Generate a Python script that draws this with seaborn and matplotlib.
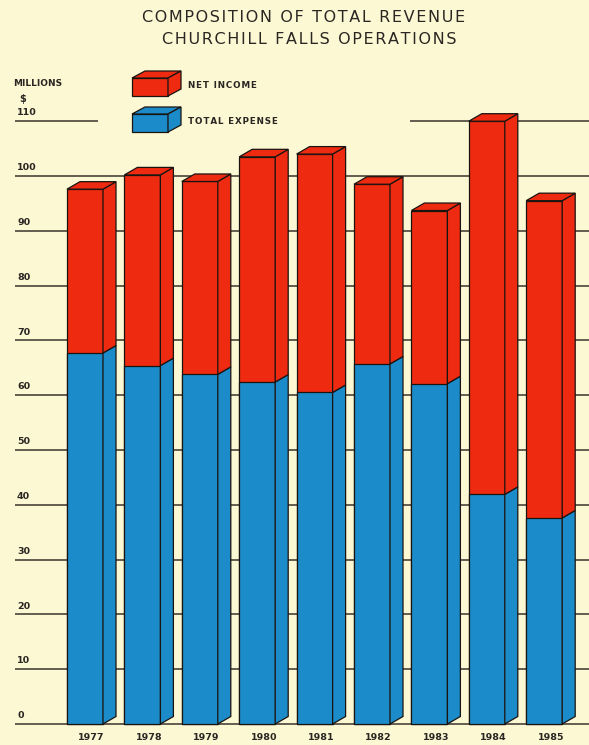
import matplotlib
matplotlib.use("Agg")
import matplotlib.pyplot as plt
import matplotlib.patches as mpatches
import numpy as np
import pandas as pd
import seaborn as sns

# ---- data (millions of dollars) ----
years = ["1977", "1978", "1979", "1980", "1981", "1982", "1983", "1984", "1985"]
total_expense = [67.7, 65.4, 63.8, 62.4, 60.5, 65.7, 62.1, 41.9, 37.6]
net_income = [29.9, 34.8, 35.2, 41.1, 43.5, 32.8, 31.6, 68.1, 57.9]
y_ticks = [0, 10, 20, 30, 40, 50, 60, 70, 80, 90, 100, 110]

total_revenue = [e + n for e, n in zip(total_expense, net_income)]
df = pd.DataFrame({"year": years, "expense": total_expense, "total": total_revenue})

# ---- style ----
BG = "#FDF8D4"
RED = "#EE2A10"
BLUE = "#1C8BC9"
EDGE = "#1a1410"
GRID = "#3a342c"
TXT = "#2a2622"

sns.set_theme(style="white")
plt.rcParams["font.family"] = ["DejaVu Sans"]

W, H = 589, 745
fig = plt.figure(figsize=(W / 100, H / 100), dpi=100, facecolor=BG)
ax = fig.add_axes([0, 0, 1, 1])
ax.set_facecolor(BG)

# pixel geometry -> data mapping
base_px, px_per_unit = 724.0, 5.48
c0_px, step_px = 85.0, 57.4
bar_w = 36.0 / step_px
dx = 13.0 / step_px
dy = 7.5 / px_per_unit

sns.barplot(data=df, x="year", y="total", color=RED, saturation=1, width=bar_w,
            edgecolor=EDGE, linewidth=0.9, ax=ax, zorder=3)
sns.barplot(data=df, x="year", y="expense", color=BLUE, saturation=1, width=bar_w,
            edgecolor=EDGE, linewidth=0.9, ax=ax, zorder=4)

ax.set_xlim(-c0_px / step_px, (W - c0_px) / step_px)
ax.set_ylim((base_px - H) / px_per_unit, base_px / px_per_unit)
ax.set_axis_off()

def xd(px):
    return (px - c0_px) / step_px

# gridlines
for t in y_ticks:
    if t == 110:
        ax.hlines(t, xd(15), xd(98), color=GRID, lw=1.1, zorder=1)
        ax.hlines(t, xd(410), xd(W), color=GRID, lw=1.1, zorder=1)
    else:
        ax.hlines(t, xd(15), xd(W), color=GRID, lw=1.1, zorder=1)
    ax.text(xd(17), t + 0.7, str(t), ha="left", va="bottom", fontsize=6.8,
            color=TXT, fontweight="bold")

# 3-D side and top faces built from the bar patches
for i, (e, tot) in enumerate(zip(total_expense, total_revenue)):
    x1 = i + bar_w / 2
    x0 = i - bar_w / 2
    side_b = [(x1, 0), (x1, e), (x1 + dx, e + dy), (x1 + dx, dy)]
    side_r = [(x1, e), (x1, tot), (x1 + dx, tot + dy), (x1 + dx, e + dy)]
    top_r = [(x0, tot), (x1, tot), (x1 + dx, tot + dy), (x0 + dx, tot + dy)]
    ax.add_patch(mpatches.Polygon(side_b, closed=True, fc=BLUE, ec=EDGE, lw=0.9, zorder=5))
    ax.add_patch(mpatches.Polygon(side_r, closed=True, fc=RED, ec=EDGE, lw=0.9, zorder=5))
    ax.add_patch(mpatches.Polygon(top_r, closed=True, fc=RED, ec=EDGE, lw=0.9, zorder=5))
    ax.text(i + dx / 2, (base_px - 737) / px_per_unit, years[i], ha="center", va="center",
            fontsize=6.8, color=TXT, fontweight="bold")

# ---- figure-level text & legend (pixel positions) ----
def fpt(x, y):
    return (x / W, 1 - y / H)

hs = "\u200a"
def spaced(s):
    return hs.join(list(s))

fig.text(*fpt(304, 18), spaced("COMPOSITION OF TOTAL REVENUE"), ha="center", va="center",
         fontsize=11.5, color=TXT)
fig.text(*fpt(309, 40), spaced("CHURCHILL FALLS OPERATIONS"), ha="center", va="center",
         fontsize=11.5, color=TXT)
fig.text(*fpt(13, 84), "MILLIONS", ha="left", va="center", fontsize=6.5,
         color=TXT, fontweight="bold")
fig.text(*fpt(19, 99), "$", ha="left", va="center", fontsize=7,
         color=TXT, fontweight="bold")

def legend_box(x0, y0, w, h, ddx, ddy, color):
    tr = fig.transFigure
    front = [fpt(x0, y0), fpt(x0 + w, y0), fpt(x0 + w, y0 + h), fpt(x0, y0 + h)]
    top = [fpt(x0, y0), fpt(x0 + w, y0), fpt(x0 + w + ddx, y0 - ddy), fpt(x0 + ddx, y0 - ddy)]
    side = [fpt(x0 + w, y0), fpt(x0 + w + ddx, y0 - ddy), fpt(x0 + w + ddx, y0 + h - ddy),
            fpt(x0 + w, y0 + h)]
    for poly in (front, top, side):
        fig.patches.append(mpatches.Polygon(poly, closed=True, fc=color, ec=EDGE, lw=0.9,
                                            transform=tr, figure=fig))

legend_box(132, 78, 36, 18, 13, 7, RED)
legend_box(132, 114, 36, 18, 13, 7, BLUE)
fig.text(*fpt(188, 85), spaced("NET INCOME"), ha="left", va="center", fontsize=6.3,
         color=TXT, fontweight="bold")
fig.text(*fpt(188, 122), spaced("TOTAL EXPENSE"), ha="left", va="center", fontsize=6.3,
         color=TXT, fontweight="bold")

fig.savefig("out.png", dpi=100, facecolor=BG)
